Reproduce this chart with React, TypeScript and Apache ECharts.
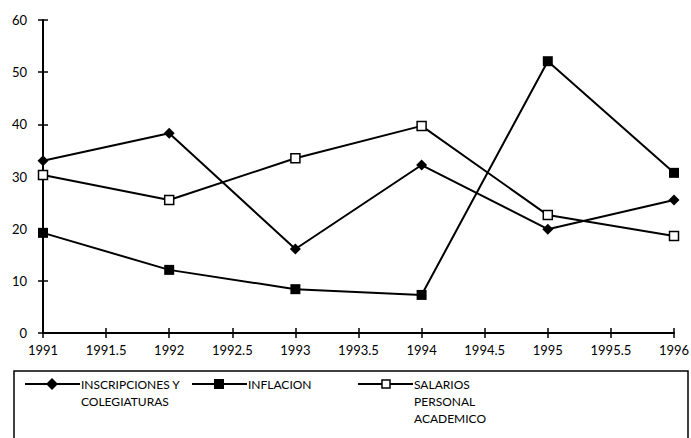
import React, { useEffect, useRef } from "react";
import * as echarts from "echarts";

const years = [1991, 1992, 1993, 1994, 1995, 1996];
const inscripciones = [33.0, 38.3, 16.1, 32.2, 19.9, 25.5];
const inflacion = [19.2, 12.1, 8.4, 7.3, 52.1, 30.7];
const salarios = [30.3, 25.5, 33.5, 39.7, 22.6, 18.6];
const seriesNames = ["INSCRIPCIONES Y\nCOLEGIATURAS", "INFLACION", "SALARIOS\nPERSONAL\nACADEMICO"];

const FONT = "Lato";

export default function App() {
  const ref = useRef<HTMLDivElement>(null);
  useEffect(() => {
    document.body.style.margin = "0";
    if (!ref.current) return;
    const chart = echarts.init(ref.current, null, { renderer: "svg" });
    const pair = (vals: number[]) => years.map((y, i) => [y, vals[i]]);
    const lineStyle = { color: "#000", width: 2 };
    const axisLabel = { color: "#000", fontFamily: FONT, fontSize: 13 };
    const legendItem = (x: number, symbol: any, label: string) => {
      const children: any[] = [
        { type: "line", shape: { x1: x, y1: 384, x2: x + 55, y2: 384 }, style: { stroke: "#000", lineWidth: 2 } },
        symbol,
        {
          type: "text",
          x: x + 56,
          y: 376,
          style: { text: label, fill: "#000", font: `12px ${FONT}`, lineHeight: 17 },
        },
      ];
      return children;
    };
    const cx1 = 52, cx2 = 219, cx3 = 386;
    chart.setOption({
      animation: false,
      grid: { left: 43, right: 17, top: 20, bottom: 105, outerBoundsMode: "none", containLabel: false },
      xAxis: [
        {
          type: "value",
          min: 1991,
          max: 1996,
          interval: 0.5,
          axisLine: { lineStyle: { color: "#000", width: 2 } },
          axisTick: { length: 5, lineStyle: { color: "#000", width: 1.5 } },
          axisLabel: { ...axisLabel, margin: 10, formatter: (v: number) => String(v) },
          splitLine: { show: false },
        },
        {
          type: "value",
          position: "bottom",
          min: 1991,
          max: 1996,
          interval: 0.5,
          axisLine: { show: false },
          axisTick: { inside: true, length: 5, lineStyle: { color: "#000", width: 1.5 } },
          axisLabel: { show: false },
          splitLine: { show: false },
        },
      ],
      yAxis: [
        {
          type: "value",
          min: 0,
          max: 60,
          interval: 10,
          axisLine: { show: true, lineStyle: { color: "#000", width: 2 } },
          axisTick: { show: true, length: 5, lineStyle: { color: "#000", width: 1.5 } },
          axisLabel: { ...axisLabel, margin: 16 },
          splitLine: { show: false },
        },
        {
          type: "value",
          position: "left",
          min: 0,
          max: 60,
          interval: 10,
          axisLine: { show: false },
          axisTick: { show: true, inside: true, length: 5, lineStyle: { color: "#000", width: 1.5 } },
          axisLabel: { show: false },
          splitLine: { show: false },
        },
      ],
      series: [
        {
          name: seriesNames[0],
          type: "line",
          data: pair(inscripciones),
          symbol: "diamond",
          symbolSize: 11,
          itemStyle: { color: "#000" },
          lineStyle,
        },
        {
          name: seriesNames[1],
          type: "line",
          data: pair(inflacion),
          symbol: "rect",
          symbolSize: 10,
          itemStyle: { color: "#000" },
          lineStyle,
        },
        {
          name: seriesNames[2],
          type: "line",
          data: pair(salarios),
          symbol: "rect",
          symbolSize: 9,
          itemStyle: { color: "#fff", borderColor: "#000", borderWidth: 1.5 },
          lineStyle,
          z: 3,
        },
      ],
      graphic: [
        {
          type: "rect",
          shape: { x: 14, y: 371, width: 674, height: 90 },
          style: { fill: "none", stroke: "#000", lineWidth: 1.5 },
        },
        ...legendItem(
          25,
          { type: "polygon", shape: { points: [[cx1, 378], [cx1 + 6, 384], [cx1, 390], [cx1 - 6, 384]] }, style: { fill: "#000" } },
          seriesNames[0]
        ),
        ...legendItem(
          192,
          { type: "rect", shape: { x: cx2 - 5, y: 379, width: 10, height: 10 }, style: { fill: "#000" } },
          seriesNames[1]
        ),
        ...legendItem(
          358,
          { type: "rect", shape: { x: cx3 - 4, y: 380, width: 8, height: 8 }, style: { fill: "#fff", stroke: "#000", lineWidth: 1.5 } },
          seriesNames[2]
        ),
      ],
    });
    return () => chart.dispose();
  }, []);
  return <div ref={ref} style={{ width: 691, height: 438 }} />;
}
